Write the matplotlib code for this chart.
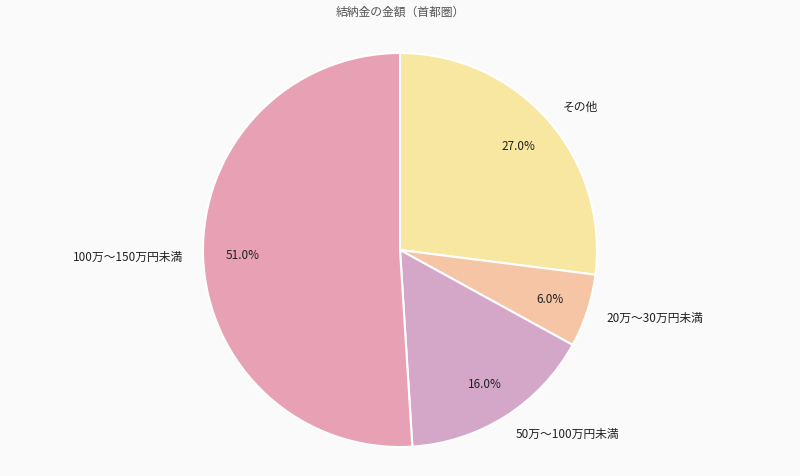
import matplotlib.pyplot as plt

plt.rcParams['font.family'] = ['Noto Sans CJK JP', 'DejaVu Sans']

labels = ['その他', '20万～30万円未満', '50万～100万円未満', '100万～150万円未満']
values = [27.0, 6.0, 16.0, 51.0]
colors = ['#F8E7A1', '#F5C5A6', '#D4A7C8', '#E8A1B4']
title = '結納金の金額（首都圏）'

fig = plt.figure(figsize=(8, 4.77), dpi=100)
fig.patch.set_facecolor('#FAFAFA')
ax = fig.add_axes([0, 0, 1, 1])
ax.set_facecolor('#FAFAFA')

wedges, texts, autotexts = ax.pie(
    values, labels=labels, colors=colors, startangle=90, counterclock=False,
    autopct='%.1f%%', pctdistance=0.8, labeldistance=1.1,
    wedgeprops=dict(edgecolor='white', linewidth=1.5),
    textprops=dict(fontsize=8.5, color='#222222'))

# scale so radius ~197px, centre at (400, 251)
ax.set_xlim(-400 / 197, 400 / 197)
ax.set_ylim(-226 / 197, 251 / 197)
ax.set_aspect('auto')

fig.text(0.5, 0.975, title, ha='center', va='center', fontsize=8.5, color='#555555')

fig.savefig('out.png', dpi=100, facecolor=fig.get_facecolor())
